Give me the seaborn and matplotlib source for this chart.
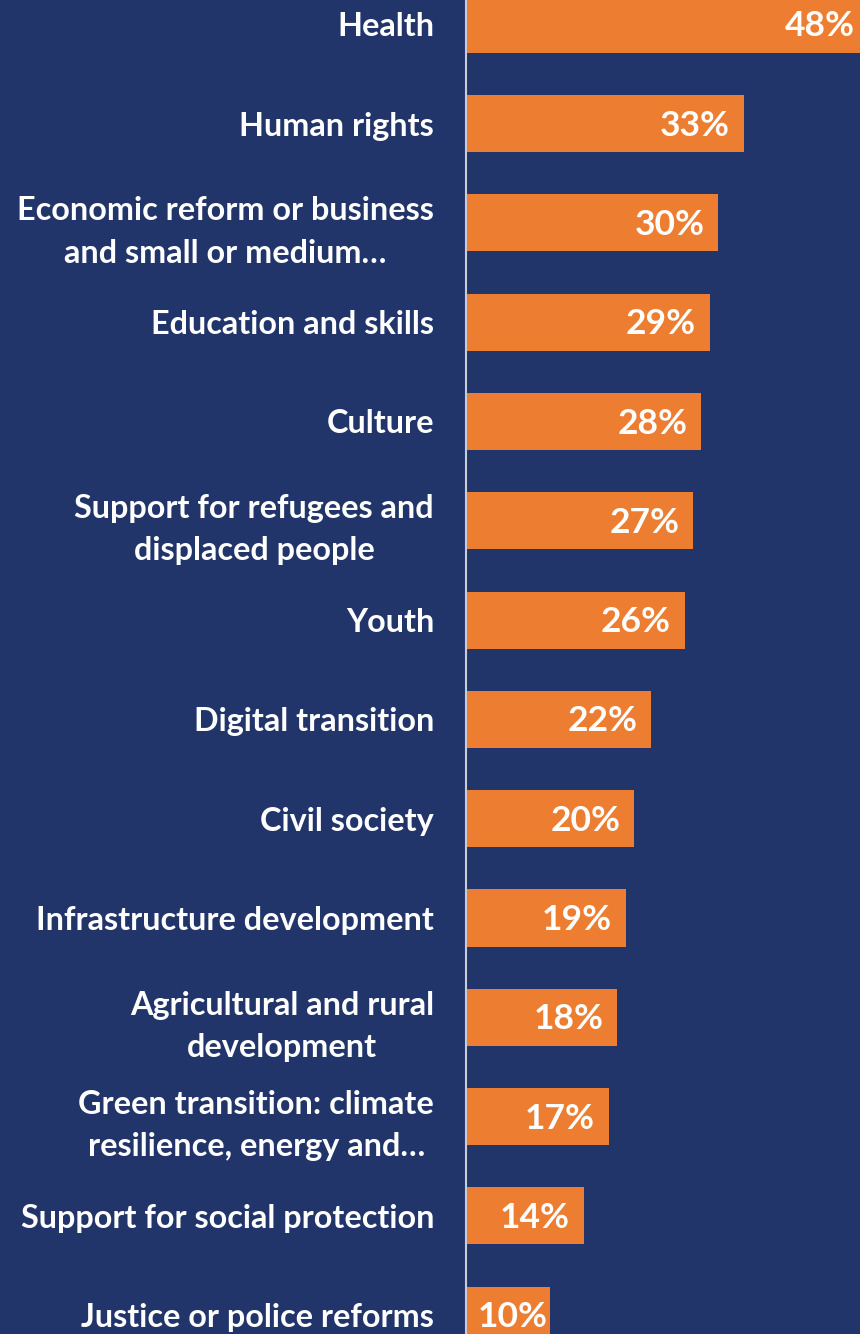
import seaborn as sns
import pandas as pd
from matplotlib import pyplot as plt

categories = [
    "Health",
    "Human rights",
    "Economic reform or business\nand small or medium\u2026",
    "Education and skills",
    "Culture",
    "Support for refugees and\ndisplaced people",
    "Youth",
    "Digital transition",
    "Civil society",
    "Infrastructure development",
    "Agricultural and rural\ndevelopment",
    "Green transition: climate\nresilience, energy and\u2026",
    "Support for social protection",
    "Justice or police reforms",
]
values = [48, 33, 30, 29, 28, 27, 26, 22, 20, 19, 18, 17, 14, 10]

bg = "#22356A"
orange = "#ED7D31"

sns.set_theme(style="white")
plt.rcParams['font.family'] = ['Lato', 'DejaVu Sans']

df = pd.DataFrame({"area": categories, "share": values})

fig = plt.figure(figsize=(8.6, 13.34), dpi=100)
fig.patch.set_facecolor(bg)
ax = fig.add_axes([466 / 860, 0, 1 - 466 / 860, 1])
ax.set_facecolor(bg)

sns.barplot(data=df, y="area", x="share", orient="h", color=orange,
            saturation=1, width=0.575, linewidth=0, ax=ax)

xmax = 394 / 8.41
ax.set_xlim(0, xmax)
ax.set_ylim(13.19, -0.245)
ax.set_xlabel("")
ax.set_ylabel("")
ax.set_xticks([])

for s in ["top", "right", "bottom"]:
    ax.spines[s].set_visible(False)
ax.spines["left"].set_color("#C8CCD6")
ax.spines["left"].set_linewidth(1.5)
ax.spines["left"].set_zorder(5)

ax.tick_params(axis="y", length=0, pad=23)
for t in ax.get_yticklabels():
    t.set_color("white")
    t.set_fontweight("bold")
    t.set_fontsize(23.3)
    t.set_linespacing(1.55)
    t.set_multialignment("center")

# value labels sit inside the bar end; the top bar runs past the frame,
# the shortest one has no room so its label hugs the end
for i, v in enumerate(values):
    end = min(v, xmax)
    if v > xmax:
        pad = -4
    elif v < 12:
        pad = -2
    else:
        pad = -10
    ax.annotate(f"{v}%", (end, i), xytext=(pad, -1.5), textcoords="offset points",
                ha="right", va="center", color="white", fontweight="bold",
                fontsize=25.5, annotation_clip=False)

fig.savefig("out.png", dpi=100, facecolor=bg)
